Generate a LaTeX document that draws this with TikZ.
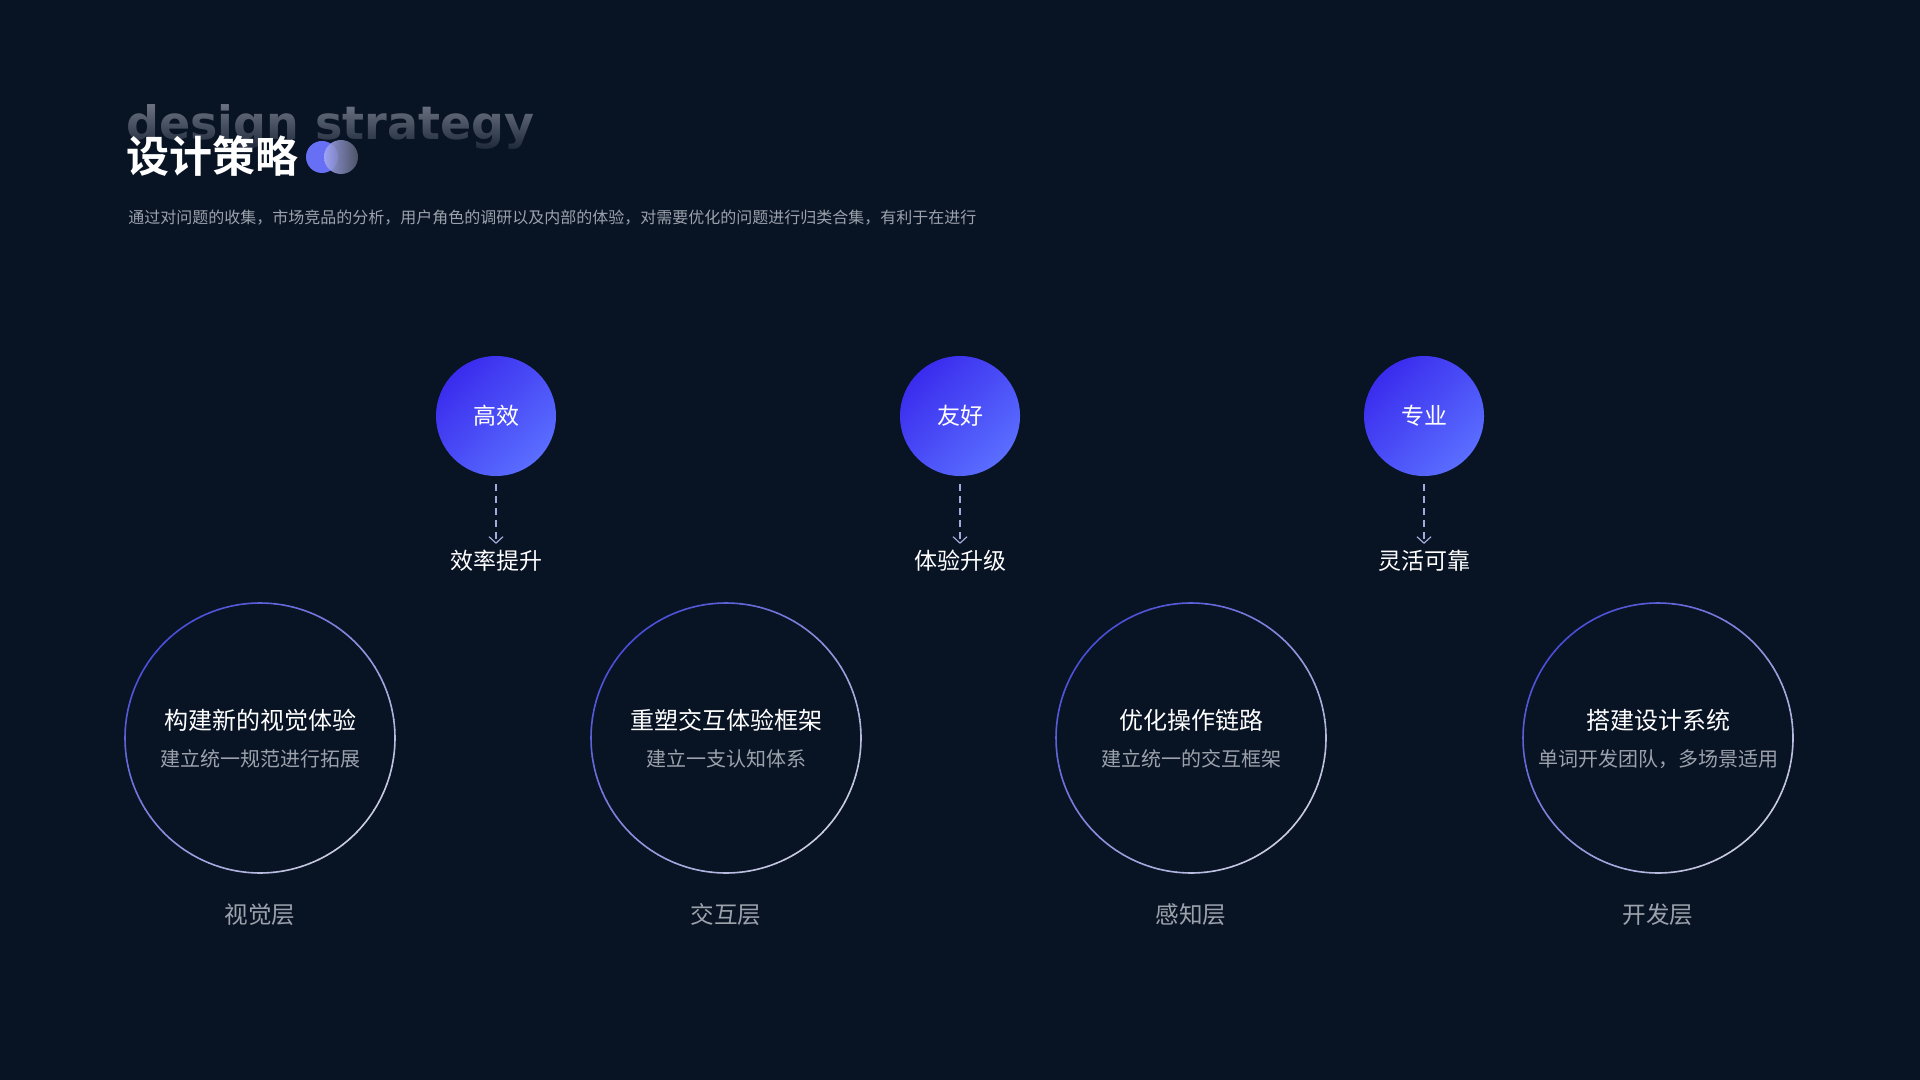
\documentclass[tikz,border=0pt]{standalone}
\usepackage{fontspec}
\setmainfont{Noto Sans CJK SC}[BoldFont={Noto Sans CJK SC Bold}]
\newfontfamily\dejabold{DejaVu Sans}
\usetikzlibrary{arrows.meta,fadings}
\newcommand\fsz[1]{\fontsize{#1}{#1}\selectfont}
\definecolor{bg}{HTML}{081324}
\definecolor{dsA}{HTML}{7A8190}
\definecolor{subgray}{HTML}{9CA2AC}
\definecolor{fcA}{HTML}{3A2CEE}
\definecolor{fcB}{HTML}{5A6EFF}
\definecolor{ringA}{HTML}{4A4ED6}
\definecolor{ringB}{HTML}{C9CCE0}
\definecolor{dotA}{HTML}{676FF4}
\definecolor{dotL}{HTML}{A3A8F6}
\definecolor{dotR}{HTML}{555B6B}
\definecolor{arrc}{HTML}{A6AAD8}
\tikzfading[name=dsfade, top color=transparent!100, bottom color=transparent!0]
\tikzset{
  fcirc/.style={circle, minimum size=60pt, inner sep=0pt, top color=fcA, bottom color=fcB, shading angle=45, text=white, font=\fsz{11.5}},
  lbl/.style={inner sep=0pt, text=white, font=\fsz{11.5}},
  rtitle/.style={inner sep=0pt, text=white, font=\fsz{12}},
  rsub/.style={inner sep=0pt, text=subgray, font=\fsz{10}},
  blbl/.style={inner sep=0pt, text=subgray, font=\fsz{11.8}},
  ringnode/.style={circle, minimum size=135pt, inner sep=0pt},
  dasharrow/.style={arrc, line width=0.6pt, dash pattern=on 3.5pt off 2.5pt, -{Straight Barb[length=3.2pt, width=7pt]}, shorten <=4pt, shorten >=3pt},
}
\begin{document}
\begin{tikzpicture}[x=0.5pt, y=-0.5pt]
\useasboundingbox (0,0) rectangle (1920,1080);
\fill[bg] (0,0) rectangle (1920,1080);

% faded background title
\node[anchor=base west, inner sep=0pt, text=dsA, font=\dejabold\bfseries\fsz{23}] (ds) at (126,140) {design strategy};
\fill[bg, path fading=dsfade] (110,96) rectangle (580,162);

\node[anchor=west, inner sep=0pt, text=white, font=\bfseries\fsz{21.5}] (title) at (126,156) {设计策略};
\node[circle, minimum size=16pt, inner sep=0pt, fill=dotA] (dot1) at (322,157) {};
\node[circle, minimum size=17pt, inner sep=0pt, left color=dotL, right color=dotR, opacity=0.9] (dot2) at (341,157) {};

\node[anchor=west, inner sep=0pt, text=subgray, font=\fsz{8}] (subtitle) at (128,218) {通过对问题的收集，市场竞品的分析，用户角色的调研以及内部的体验，对需要优化的问题进行归类合集，有利于在进行};

% top circles
\node[fcirc] (f1) at (496,416) {高效};
\node[fcirc] (f2) at (960,416) {友好};
\node[fcirc] (f3) at (1424,416) {专业};
\node[lbl] (l1) at (496,561) {效率提升};
\node[lbl] (l2) at (960,561) {体验升级};
\node[lbl] (l3) at (1424,561) {灵活可靠};
\draw[dasharrow] (f1) -- (l1);
\draw[dasharrow] (f2) -- (l2);
\draw[dasharrow] (f3) -- (l3);

% rings
\node[ringnode] (r1) at (260,738) {};
\node[ringnode] (r2) at (726,738) {};
\node[ringnode] (r3) at (1191,738) {};
\node[ringnode] (r4) at (1658,738) {};
\foreach \r in {r1,r2,r3,r4}{
  \foreach \a in {0,4,...,356}{
    \pgfmathsetmacro\p{50+50*cos(\a+2+135)}
    \draw[color=ringA!\p!ringB, line width=0.8pt] (\r.center) ++(\a:135) arc[start angle=\a, delta angle=4.3, radius=135];
  }
}
\node[rtitle] (t1) at (260,720) {构建新的视觉体验};
\node[rsub] (s1) at (260,759) {建立统一规范进行拓展};
\node[rtitle] (t2) at (726,720) {重塑交互体验框架};
\node[rsub] (s2) at (726,759) {建立一支认知体系};
\node[rtitle] (t3) at (1191,720) {优化操作链路};
\node[rsub] (s3) at (1191,759) {建立统一的交互框架};
\node[rtitle] (t4) at (1658,720) {搭建设计系统};
\node[rsub] (s4) at (1658,759) {单词开发团队，多场景适用};

\node[blbl] (b1) at (260,915) {视觉层};
\node[blbl] (b2) at (726,915) {交互层};
\node[blbl] (b3) at (1191,915) {感知层};
\node[blbl] (b4) at (1658,915) {开发层};
\end{tikzpicture}
\end{document}
